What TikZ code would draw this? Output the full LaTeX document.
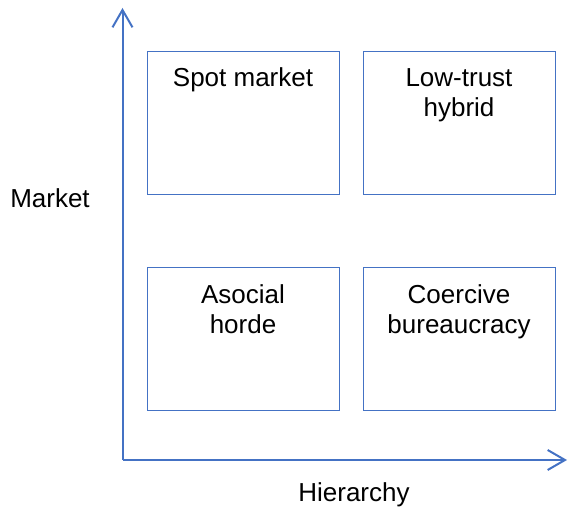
\documentclass[tikz,border=0pt]{standalone}
\usepackage{fontspec}
\setmainfont{Liberation Sans}
\usetikzlibrary{arrows.meta}
\definecolor{officeblue}{HTML}{4472C4}

\begin{document}
\begin{tikzpicture}[x=0.75pt, y=-0.75pt,
    quadrant/.style={rectangle, draw=officeblue, line width=0.75pt, minimum width=144pt, minimum height=107.25pt},
    caption/.style={anchor=base, align=center, font=\fontsize{19.5}{22.5}\selectfont}]
    \useasboundingbox (0,0) rectangle (569,509);

    \node[quadrant] (spot) at (243,123.5) {};
    \node[quadrant] (lowtrust) at (459,123.5) {};
    \node[quadrant] (horde) at (243,339.5) {};
    \node[quadrant] (coercive) at (459,339.5) {};

    % base of a two-line caption is its last line
    \node[caption] (spottext) at (243,87) {Spot market};
    \node[caption] (lowtrusttext) at (459,117) {Low-trust\\hybrid};
    \node[caption] (hordetext) at (243,334) {Asocial\\horde};
    \node[caption] (coercivetext) at (459,334) {Coercive\\bureaucracy};

    \coordinate (origin) at (122.5,460);
    \coordinate (ytip) at (122.5,8);
    \coordinate (xtip) at (567,460);
    \draw[color=officeblue, line width=1.5pt, -{Straight Barb[length=13pt, width=15pt]}] (origin) -- (ytip);
    \draw[color=officeblue, line width=1.5pt, -{Straight Barb[length=13pt, width=15pt]}] (origin) -- (xtip);

    \node[caption] (market) at (50,208) {Market};
    \node[caption] (hierarchy) at (354,502) {Hierarchy};
\end{tikzpicture}
\end{document}
